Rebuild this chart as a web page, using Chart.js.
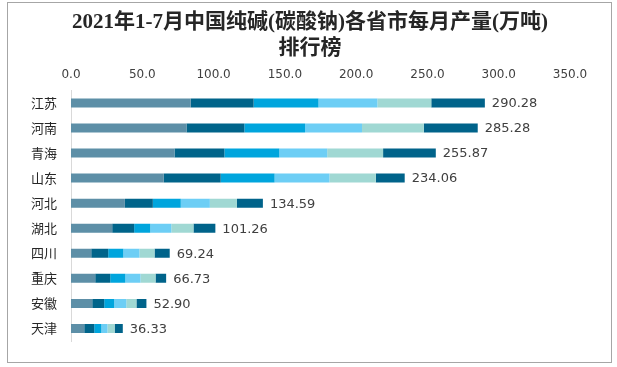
<!DOCTYPE html>
<html>
<head>
<meta charset="utf-8">
<script src="https://cdn.jsdelivr.net/npm/chart.js@4/dist/chart.umd.min.js"></script>
<style>
  html, body { margin: 0; padding: 0; background: #fff; }
  #wrap { width: 617px; height: 367px; }
</style>
</head>
<body>
<div id="wrap"><canvas id="soda-chart" width="617" height="367"></canvas></div>
<script>
// provinces, top to bottom
const provinces = ['江苏', '河南', '青海', '山东', '河北', '湖北', '四川', '重庆', '安徽', '天津'];
// monthly output (万吨)
const monthNames = ['1-2月', '3月', '4月', '5月', '6月', '7月'];
const janFeb = [84.0, 81.0, 72.6, 65.1, 37.8, 28.9, 14.2, 17.0, 14.9, 9.3];
const mar    = [44.1, 40.6, 35.0, 39.9, 19.6, 15.4, 11.9, 10.5,  8.4, 7.0];
const apr    = [45.5, 42.6, 38.5, 37.8, 19.6, 11.3, 10.6, 10.6,  7.0, 5.0];
const may    = [41.3, 39.9, 33.6, 38.5, 20.4, 14.8, 11.3, 10.6,  8.5, 4.3];
const jun    = [37.8, 43.4, 39.2, 32.5, 19.0, 15.5, 10.6, 10.6,  7.1, 5.0];
const jul    = [37.58, 37.78, 36.97, 20.26, 18.19, 15.36, 10.64, 7.43, 7.0, 5.73];
const totals = [290.28, 285.28, 255.87, 234.06, 134.59, 101.26, 69.24, 66.73, 52.90, 36.33];
const xTicks = [0, 50, 100, 150, 200, 250, 300, 350];
const titleLines = ['2021年1-7月中国纯碱(碳酸钠)各省市每月产量(万吨)', '排行榜'];

const colors = ['#5D8FA7', '#00648A', '#00A5DD', '#6DCEF5', '#A0D8D3', '#00638A'];
const series = [janFeb, mar, apr, may, jun, jul];

// totals written to the right of each bar
const totalLabels = {
    id: 'totalLabels',
    afterDatasetsDraw(chart) {
        const ctx = chart.ctx;
        const xs = chart.scales.x, ys = chart.scales.y;
        ctx.save();
        ctx.font = '13px "DejaVu Sans", sans-serif';
        ctx.fillStyle = '#404040';
        ctx.textBaseline = 'middle';
        totals.forEach((t, i) => {
            ctx.fillText(t.toFixed(2), xs.getPixelForValue(t) + 7, ys.getPixelForValue(i) + 1);
        });
        ctx.restore();
    }
};

// grey frame and the title, centred on the whole picture
const frame = {
    id: 'frame',
    beforeDraw(chart) {
        const ctx = chart.ctx;
        ctx.save();
        ctx.fillStyle = '#fff';
        ctx.fillRect(0, 0, chart.width, chart.height);
        ctx.strokeStyle = '#A6A6A6';
        ctx.lineWidth = 1;
        ctx.strokeRect(7.5, 2.5, 604, 360);
        ctx.font = 'bold 21px "Liberation Serif", "Noto Sans CJK SC", serif';
        ctx.fillStyle = '#262626';
        ctx.textAlign = 'center';
        ctx.textBaseline = 'middle';
        ctx.fillText(titleLines[0], 310, 23);
        ctx.fillText(titleLines[1], 310, 49);
        ctx.restore();
    }
};

const ctx = document.getElementById('soda-chart').getContext('2d');
new Chart(ctx, {
    type: 'bar',
    data: {
        labels: provinces,
        datasets: series.map((d, i) => ({
            label: monthNames[i],
            data: d,
            backgroundColor: colors[i],
            borderWidth: 0,
            barPercentage: 0.6,
            categoryPercentage: 0.6
        }))
    },
    options: {
        indexAxis: 'y',
        responsive: false,
        animation: false,
        layout: { padding: { left: 8, right: 47, top: 60, bottom: 26 } },
        plugins: {
            legend: { display: false },
            tooltip: { enabled: false },
            title: { display: false }
        },
        scales: {
            x: {
                position: 'top',
                stacked: true,
                min: 0,
                max: 350,
                afterBuildTicks(axis) { axis.ticks = xTicks.map(v => ({ value: v })); },
                ticks: {
                    color: '#404040',
                    font: { family: '"DejaVu Sans", sans-serif', size: 12 },
                    padding: 8,
                    callback: v => Number(v).toFixed(1)
                },
                grid: { display: false, drawTicks: false },
                border: { display: false }
            },
            y: {
                stacked: true,
                afterFit(axis) { axis.width = 63; },
                ticks: {
                    color: '#262626',
                    font: { family: '"Noto Sans CJK SC", sans-serif', size: 13 },
                    padding: 14
                },
                grid: { display: false, drawTicks: false },
                border: { display: true, color: '#D9D9D9' }
            }
        }
    },
    plugins: [frame, totalLabels]
});
</script>
</body>
</html>
